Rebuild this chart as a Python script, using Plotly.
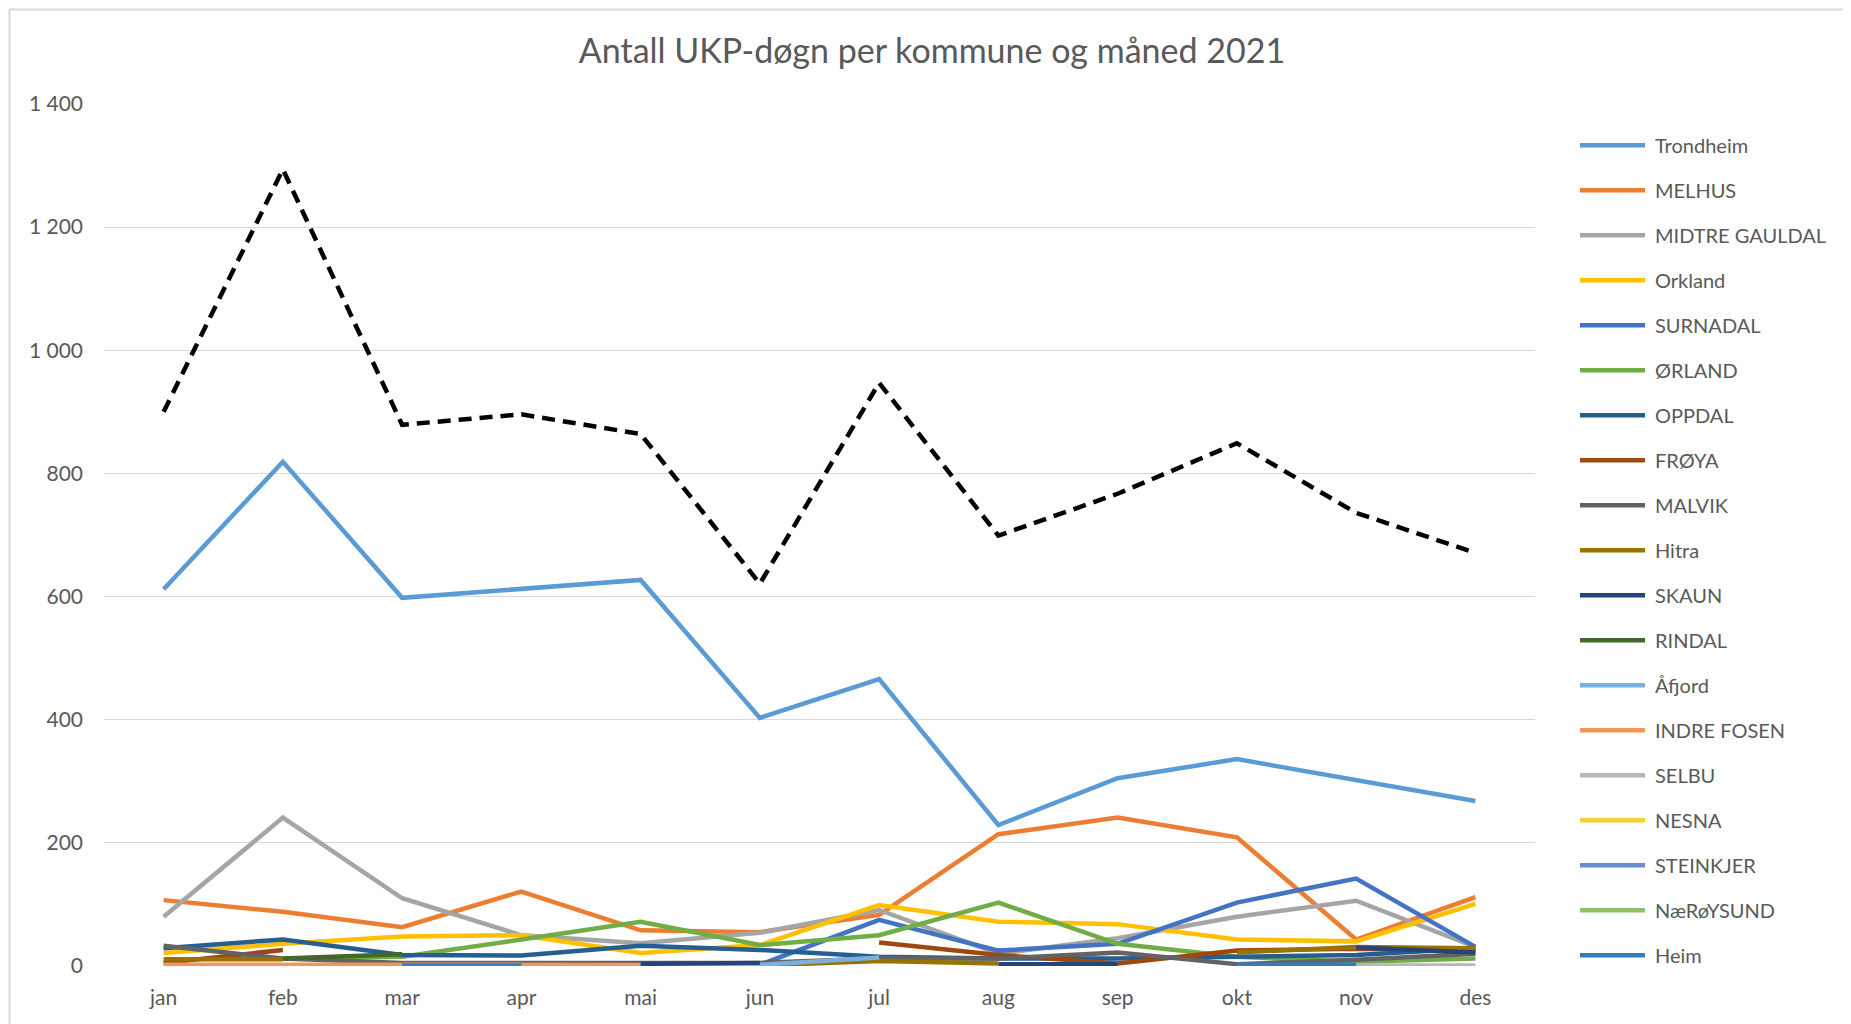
import plotly.graph_objects as go

months = ["jan", "feb", "mar", "apr", "mai", "jun", "jul", "aug", "sep", "okt", "nov", "des"]
N = None

trondheim      = [612, 819, 598, 612, 627, 403, 466, 229, 305, 336, 302, 268]
melhus         = [107, 88, 63, 121, 58, 55, 83, 214, 241, 209, 43, 112]
midtre_gauldal = [80, 241, 110, 50, 37, 54, 91, 20, 45, 80, 106, 31]
orkland        = [21, 36, 48, 50, 21, 34, 99, 72, 68, 43, 40, 101]
surnadal       = [N, N, N, N, N, 2, 75, 25, 36, 103, 142, 31]
orland         = [N, 12, 15, 43, 72, 34, 50, 103, 36, 15, 7, 12]
oppdal         = [29, 43, 18, 17, 33, 26, 15, 12, 12, 15, 18, 29]
froya          = [5, 26, N, N, N, N, 38, 18, 4, 25, 28, 25]
malvik         = [33, 12, 5, 5, 5, 5, 12, 12, 22, 3, 10, 20]
hitra          = [11, 11, N, N, N, 1, 8, 4, N, 22, 31, 29]
skaun          = [N, N, N, 2, 3, 5, N, 3, 3, N, 30, 22]
rindal         = [N, 12, 19, N, N, N, N, N, N, N, N, N]
afjord         = [N, N, N, N, N, 2, 14, N, N, N, N, N]
indre_fosen    = [2, 2, 2, 2, 2, N, N, N, N, N, N, N]
selbu          = [N, N, N, N, N, N, N, N, N, N, 1, 1]
nesna          = [N, N, N, N, N, N, N, N, N, N, N, N]
steinkjer      = [N, N, N, N, N, N, N, N, N, N, N, N]
naroysund      = [N, N, N, N, N, N, N, N, N, N, N, 10]
heim           = [N, N, 1, 1, N, N, N, N, N, 2, 2, N]
total          = [900, 1294, 879, 896, 864, 621, 947, 699, 767, 849, 736, 671]

series = [
    ("Trondheim", trondheim, "#5B9BD5"),
    ("MELHUS", melhus, "#ED7D31"),
    ("MIDTRE GAULDAL", midtre_gauldal, "#A5A5A5"),
    ("Orkland", orkland, "#FFC000"),
    ("SURNADAL", surnadal, "#4472C4"),
    ("ØRLAND", orland, "#70AD47"),
    ("OPPDAL", oppdal, "#255E91"),
    ("FRØYA", froya, "#9E480E"),
    ("MALVIK", malvik, "#636363"),
    ("Hitra", hitra, "#997300"),
    ("SKAUN", skaun, "#264478"),
    ("RINDAL", rindal, "#43682B"),
    ("Åfjord", afjord, "#7CAFDD"),
    ("INDRE FOSEN", indre_fosen, "#F1975A"),
    ("SELBU", selbu, "#B7B7B7"),
    ("NESNA", nesna, "#FFCD33"),
    ("STEINKJER", steinkjer, "#698ED0"),
    ("NæRøYSUND", naroysund, "#8CC168"),
    ("Heim", heim, "#327DC2"),
]

FONT = "Lato, Carlito, 'Liberation Sans', sans-serif"
TXT = "#595959"

# page offset of the plotly div (body margin)
OFF = 8
W, H = 1851 - OFF, 1024 - OFF
# plot area in page pixels
L, R, T, B = 104, 1535, 104, 966
pw, ph = R - L, B - T

def px(xp):
    return (xp - L) / pw

def py(yp):
    return (B - yp) / ph

fig = go.Figure()
for i, (name, vals, col) in enumerate(series):
    fig.add_trace(go.Scatter(
        x=months, y=vals, name=name, mode="lines",
        line=dict(color=col, width=4.5), connectgaps=False,
    ))
fig.add_trace(go.Scatter(
    x=months, y=total, name="Totalt", mode="lines",
    line=dict(color="#000000", width=4.5, dash="13px,8px"),
))

# custom legend (Excel style: long line sample + text)
shapes = []
annotations = []
for i, (name, vals, col) in enumerate(series):
    yc = 145.2 + i * 45.0
    shapes.append(dict(type="line", xref="paper", yref="paper",
                       x0=px(1580), x1=px(1645), y0=py(yc), y1=py(yc),
                       line=dict(color=col, width=4.5)))
    annotations.append(dict(text=name, xref="paper", yref="paper",
                            x=px(1653), y=py(yc), xanchor="left", yanchor="middle",
                            showarrow=False, font=dict(size=20, color=TXT, family=FONT)))

# chart-area frame (top and left edges visible)
shapes.append(dict(type="line", xref="paper", yref="paper", x0=px(9), x1=px(1851 + 20),
                   y0=py(9.5), y1=py(9.5), line=dict(color="#D9D9D9", width=2)))
shapes.append(dict(type="line", xref="paper", yref="paper", x0=px(9.5), x1=px(9.5),
                   y0=py(9.5), y1=py(1024 + 20), line=dict(color="#D9D9D9", width=2)))

fig.update_layout(
    width=W, height=H,
    margin=dict(l=L - OFF, r=(1851 - R), t=T - OFF, b=(1024 - B), pad=0),
    paper_bgcolor="white", plot_bgcolor="white",
    separators=", ",
    font=dict(family=FONT, color=TXT, size=20),
    title=dict(text="Antall UKP-døgn per kommune og måned 2021",
               x=(932 - OFF) / W, xanchor="center", y=1 - (51 - OFF) / H, yanchor="middle",
               font=dict(size=34, color=TXT, family=FONT)),
    xaxis=dict(range=[-0.5, 11.5], showgrid=False, zeroline=False, showline=False, ticks="",
               tickfont=dict(size=21, color=TXT), ticklabelstandoff=17,
               fixedrange=True),
    yaxis=dict(range=[0, 1400], dtick=200, tickformat=",d",
               showgrid=True, gridcolor="#D9D9D9", gridwidth=1.3,
               zeroline=False, showline=False, ticks="",
               tickfont=dict(size=21, color=TXT), ticklabelstandoff=20,
               fixedrange=True),
    showlegend=False,
    shapes=shapes,
    annotations=annotations,
)

fig.write_html("out.html")
